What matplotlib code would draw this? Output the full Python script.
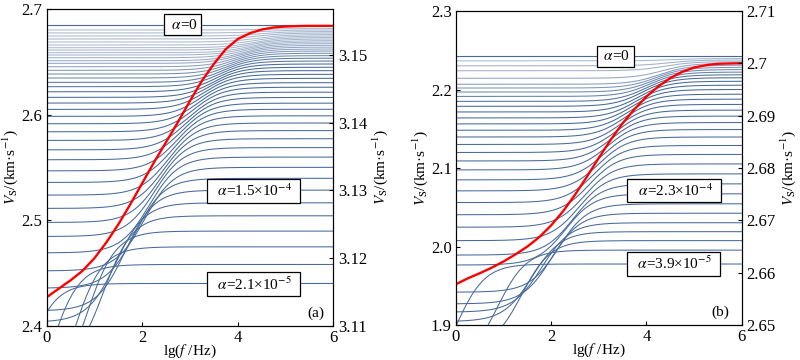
import numpy as np
import matplotlib
matplotlib.use("Agg")
import matplotlib.pyplot as plt

plt.rcParams['font.family'] = ['Liberation Serif', 'DejaVu Serif']
plt.rcParams['mathtext.fontset'] = 'stix'

# ---------------- data ----------------
lgf = np.linspace(0, 6, 500)

# panel (a): red curve
red_a_x = [0, 0.25, 0.5, 0.75, 1.0, 1.25, 1.5, 1.75, 2.0, 2.25, 2.5, 2.75, 3.0,
           3.25, 3.5, 3.75, 4.0, 4.25, 4.5, 4.75, 5.0, 5.25, 5.5, 6.0]
red_a_y = [2.427, 2.435, 2.443, 2.452, 2.464, 2.479, 2.496, 2.515, 2.535, 2.555,
           2.574, 2.593, 2.613, 2.632, 2.648, 2.662, 2.6715, 2.677, 2.6805, 2.6825,
           2.6834, 2.6838, 2.684, 2.684]
# panel (a): blue family -- high-frequency level, low-frequency level, transition centre (lg f)
high_a = [2.4400, 2.4580, 2.4747, 2.4896, 2.5041, 2.5164, 2.5284, 2.5396, 2.5500,
          2.5597, 2.5687, 2.5771, 2.5848, 2.5920, 2.5988, 2.6050, 2.6108, 2.6162,
          2.6212, 2.6259, 2.6302, 2.6343, 2.6381, 2.6416, 2.6448, 2.6479, 2.6507,
          2.6534, 2.6558, 2.6581, 2.6602, 2.6621, 2.6639, 2.6656, 2.6672, 2.6687,
          2.6701, 2.6716, 2.6730, 2.6744, 2.6758, 2.6773, 2.6787, 2.6801, 2.6815]
low_a = [2.270, 2.290, 2.310, 2.330, 2.360, 2.4033, 2.4140, 2.4355, 2.4519, 2.4690,
         2.4845, 2.4978, 2.5111, 2.5237, 2.5357, 2.5467, 2.5572, 2.5666, 2.5755,
         2.5837, 2.5913, 2.5983, 2.6049, 2.6109, 2.6163, 2.6216, 2.6264, 2.6305,
         2.6346, 2.6384, 2.6419, 2.6453, 2.6485, 2.6510, 2.6538, 2.6564, 2.6586,
         2.6611, 2.6633, 2.6659, 2.6687, 2.6716, 2.6744, 2.6773, 2.6801]
centre_a = [-0.5, 0.05, 0.55, 0.83, 1.19, 1.45, 1.65, 1.85, 2.05, 2.15, 2.25, 2.35,
            2.45, 2.55, 2.64, 2.73, 2.82, 2.91, 3.0, 3.08, 3.16, 3.24, 3.32, 3.4,
            3.48, 3.56, 3.63, 3.7, 3.77, 3.84, 3.9, 3.96, 4.02, 4.08, 4.13, 4.18,
            4.23, 4.28, 4.32, 4.36, 4.4, 4.44, 4.48, 4.52, 4.56]
alpha0_a = 2.6848

# panel (b): red curve
red_b_x = red_a_x
red_b_y = [1.952, 1.9595, 1.966, 1.973, 1.981, 1.990, 2.000, 2.012, 2.027, 2.045,
           2.066, 2.089, 2.113, 2.136, 2.157, 2.175, 2.191, 2.204, 2.2145, 2.2225,
           2.228, 2.231, 2.2328, 2.2335]
high_b = [1.9777, 1.9954, 2.0075, 2.0189, 2.0303, 2.0424, 2.0544, 2.0671, 2.0798,
          2.0925, 2.1052, 2.1173, 2.1287, 2.1395, 2.1490, 2.1579, 2.1661, 2.1737,
          2.1810, 2.1877, 2.1940, 2.2000, 2.2055, 2.2105, 2.2150, 2.2188, 2.2222,
          2.2254, 2.2283, 2.2310, 2.2334, 2.2355, 2.2376, 2.2395]
low_b = [1.820, 1.850, 1.870, 1.9044, 1.9164, 1.9269, 1.9418, 1.9764, 1.9891,
         2.0075, 2.0246, 2.0405, 2.0560, 2.0709, 2.0849, 2.0976, 2.1090, 2.1198,
         2.1300, 2.1395, 2.1481, 2.1562, 2.1638, 2.1714, 2.1786, 2.1849, 2.1912,
         2.1968, 2.2019, 2.2067, 2.2143, 2.2239, 2.2302, 2.2365]
centre_b = [0.0, 0.87, 1.38, 1.6, 1.8, 2.0, 2.15, 2.3, 2.45, 2.58, 2.7, 2.8, 2.9,
            3.0, 3.09, 3.18, 3.27, 3.36, 3.45, 3.53, 3.61, 3.69, 3.77, 3.85, 3.92,
            3.99, 4.06, 4.13, 4.2, 4.27, 4.33, 4.39, 4.45, 4.5]
alpha0_b = 2.2429

xticks = [0, 2, 4, 6]
yticks_a = [2.4, 2.5, 2.6, 2.7]
yticks_a2 = [3.11, 3.12, 3.13, 3.14, 3.15]
yticks_b = [1.9, 2.0, 2.1, 2.2, 2.3]
yticks_b2 = [2.65, 2.66, 2.67, 2.68, 2.69, 2.70, 2.71]

K = 3.3
BLUE = '#46699a'
FS = 11
TFS = 12


def family(ax, high, low, centre, top, px_per_unit):
    for i, (H, L, c) in enumerate(zip(high, low, centre)):
        # lines packed closer than ~3 px are drawn paler, as in the source image
        gap = (high[i] - high[i - 1]) if i > 0 else (high[1] - high[0])
        a = float(np.clip(gap * px_per_unit / 3.2, 0.35, 1.0))
        v = L + (H - L) / (1.0 + np.exp(-K * (lgf - c)))
        ax.plot(lgf, v, color=BLUE, lw=0.75, alpha=a, zorder=2)
    ax.plot([0, 6], [top, top], color=BLUE, lw=0.8, zorder=2)


def label_box(ax, x, y, s):
    ax.text(x, y, s, ha='center', va='center', fontsize=FS, zorder=5,
            bbox=dict(boxstyle='square,pad=0.22', fc='white', ec='black', lw=0.9))


fig = plt.figure(figsize=(8, 3.6), dpi=100)
ylab = r'$V_{\mathrm{S}}$/(km·s$^{-1}$)'
xlab = r'lg($f$ /Hz)'


def dress(a, xl):
    a.set_xlim(0, 6)
    a.set_xticks(xticks)
    a.set_xticklabels([str(t) for t in xticks])
    a.tick_params(direction='in', labelsize=TFS, length=3, pad=3)
    a.set_xlabel(xl, fontsize=FS)
    a.xaxis.set_label_coords(0.5, -0.08)
    a.xaxis.label.set_va('center')
    a.set_ylabel(ylab, fontsize=FS, labelpad=1)


# ---------- panel (a) ----------
ax = fig.add_axes([0.0584, 0.0953, 0.3582, 0.8797])
family(ax, high_a, low_a, centre_a, alpha0_a, 1055.0)
ax.plot(red_a_x, red_a_y, color='red', lw=1.7, zorder=3)
ax.set_ylim(2.4, 2.7)
ax.set_yticks(yticks_a)
ax.set_yticklabels(['2.4', '2.5', '2.6', '2.7'])
dress(ax, xlab)
label_box(ax, 2.85, 2.685, r' $\alpha$=0 ')
label_box(ax, 4.33, 2.5275, r'  $\alpha$=1.5×10$^{-4}$  ')
label_box(ax, 4.33, 2.4393, r'  $\alpha$=2.1×10$^{-5}$  ')
ax.text(5.63, 2.412, '(a)', ha='center', va='center', fontsize=FS)
ax2 = ax.twinx()
ax2.set_ylim(3.11, 3.1568)
ax2.set_yticks(yticks_a2)
ax2.set_yticklabels(['3.11', '3.12', '3.13', '3.14', '3.15'])
ax2.tick_params(direction='in', labelsize=TFS, length=3)
ax2.set_ylabel(ylab, fontsize=FS, labelpad=2)

# ---------- panel (b) ----------
bx = fig.add_axes([0.570, 0.0972, 0.3571, 0.8722])
family(bx, high_b, low_b, centre_b, alpha0_b, 788.0)
bx.plot(red_b_x, red_b_y, color='red', lw=1.7, zorder=3)
bx.set_ylim(1.9, 2.3)
bx.set_yticks(yticks_b)
bx.set_yticklabels(['1.9', '2.0', '2.1', '2.2', '2.3'])
dress(bx, xlab)
label_box(bx, 3.35, 2.2425, r' $\alpha$=0 ')
label_box(bx, 4.58, 2.0712, r'  $\alpha$=2.3×10$^{-4}$  ')
label_box(bx, 4.57, 1.9783, r'  $\alpha$=3.9×10$^{-5}$  ')
bx.text(5.56, 1.9164, '(b)', ha='center', va='center', fontsize=FS)
bx2 = bx.twinx()
bx2.set_ylim(2.65, 2.71)
bx2.set_yticks(yticks_b2)
bx2.set_yticklabels(['2.65', '2.66', '2.67', '2.68', '2.69', '2.7', '2.71'])
bx2.tick_params(direction='in', labelsize=TFS, length=3)
bx2.set_ylabel(ylab, fontsize=FS, labelpad=2)

fig.savefig('out.png', dpi=100)
